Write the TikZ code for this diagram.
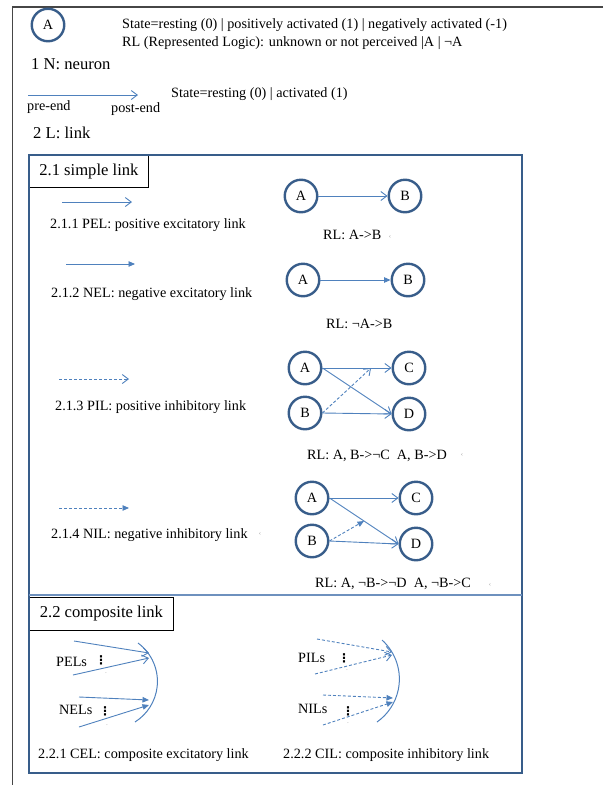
\documentclass[tikz,border=0pt]{standalone}
\usepackage{fontspec}
\setmainfont{Liberation Serif}
\newfontfamily\symfnt{DejaVu Sans}
\usetikzlibrary{arrows.meta,calc}
\definecolor{nblue}{RGB}{56,93,138}
\definecolor{lblue}{RGB}{79,129,189}
\definecolor{divblue}{RGB}{110,145,190}
\definecolor{framegray}{RGB}{70,70,70}
\begin{document}
\begin{tikzpicture}[x=1pt,y=-1pt,
 neuron/.style={circle, draw=nblue, line width=2.4pt, minimum size=32.5pt, inner sep=0pt, font=\fontsize{14.2}{16}\selectfont},
 txt/.style={anchor=base west, inner sep=0pt, font=\fontsize{14.2}{17}\selectfont},
 hdr/.style={anchor=base west, inner sep=0pt, font=\fontsize{16.6}{19}\selectfont},
 lnk/.style={draw=lblue, line width=0.9pt},
 pelink/.style={lnk, -{Straight Barb[length=6pt,width=9pt,line width=0.9pt]}},
 nelink/.style={lnk, -{Triangle[length=6.5pt,width=5.5pt]}},
 pilink/.style={pelink, dash pattern=on 3pt off 2pt},
 nilink/.style={nelink, dash pattern=on 3pt off 2pt},
 titlebox/.style={draw=black, line width=0.8pt, fill=white, inner sep=0pt, font=\fontsize{16.6}{19}\selectfont},
 boxline/.style={draw=nblue, line width=2.4pt},
 tinymark/.style={inner sep=0pt, text=gray!70, font=\fontsize{7}{7}\selectfont},
 vdts/.style={inner sep=0pt, font=\symfnt\bfseries\fontsize{12}{12}\selectfont}
]
\useasboundingbox (0,0) rectangle (603,785);
% outer frame
\draw[framegray, line width=1.4pt] (603,7) -- (12.5,7) -- (12.5,785);

% 1 N: neuron
\node[neuron] (A0) at (48,25) {A};
\node[txt] (st1) at (122,28) {State=resting (0) | positively activated (1) | negatively activated (-1)};
\node[txt] (st2) at (122,46) {RL (Represented Logic): unknown or not perceived |A | ¬A};
\node[hdr] (h1) at (31,69) {1 N: neuron};

% 2 L: link
\coordinate (preS) at (28,95);
\coordinate (preE) at (138,95);
\draw[pelink] (preS) -- (preE);
\node[txt] (pre) at (27,110) {pre-end};
\node[txt] (post) at (111,112) {post-end};
\node[txt] (st3) at (171,97) {State=resting (0) | activated (1)};
\node[hdr] (h2) at (33,138) {2 L: link};

% title boxes
\node[titlebox, minimum width=119pt, minimum height=32pt, anchor=north west] (t21) at (29,155) {2.1 simple link};
\node[titlebox, minimum width=144pt, minimum height=33pt, anchor=north west] (t22) at (29,597) {2.2 composite link};
% blue box
\draw[boxline] (29,155) rectangle (522,773);
\draw[divblue, line width=1.6pt] (29,595) -- (522,595);

% 2.1.1 PEL
\coordinate (pelS) at (62,202);
\coordinate (pelE) at (132,202);
\draw[pelink] (pelS) -- (pelE);
\node[txt] (l211) at (50,228) {2.1.1 PEL: positive excitatory link};
\node[neuron] (A1) at (301,196) {A};
\node[neuron] (B1) at (405,196) {B};
\draw[pelink] (A1) -- (B1);
\node[txt] (rl1) at (323,239) {RL: A->B};
\node[tinymark] (m1) at (390,237) {‹};

% 2.1.2 NEL
\coordinate (nelS) at (66,264);
\coordinate (nelE) at (135,264);
\draw[nelink] (nelS) -- (nelE);
\node[txt] (l212) at (51,297) {2.1.2 NEL: negative excitatory link};
\node[neuron] (A2) at (303,280) {A};
\node[neuron] (B2) at (408,280) {B};
\draw[nelink] (A2) -- (B2);
\node[txt] (rl2) at (326,328) {RL: ¬A->B};

% 2.1.3 PIL
\coordinate (pilS) at (59,379);
\coordinate (pilE) at (129,379);
\draw[pilink] (pilS) -- (pilE);
\node[txt] (l213) at (55,410) {2.1.3 PIL: positive inhibitory link};
\node[neuron] (A3) at (305,368) {A};
\node[neuron] (C3) at (409,368) {C};
\node[neuron] (B3) at (305,413) {B};
\node[neuron] (D3) at (409,414) {D};
\draw[pelink] (A3.east) -- (C3.west);
\draw[pelink] (A3.east) -- (D3.west);
\draw[pelink] (B3.east) -- (D3.west);
\coordinate (pilT) at ($(A3)!0.635!(C3)$);
\draw[pilink] (B3.east) -- (pilT);
\node[txt] (rl3) at (307,459) {RL: A, B->¬C\ \ A, B->D};
\node[tinymark] (m3) at (462,455) {‹};

% 2.1.4 NIL
\coordinate (nilS) at (59,508);
\coordinate (nilE) at (129,508);
\draw[nilink] (nilS) -- (nilE);
\node[txt] (l214) at (51,538) {2.1.4 NIL: negative inhibitory link};
\node[tinymark] (m4a) at (260,534) {‹};
\node[neuron] (A4) at (312,498) {A};
\node[neuron] (C4) at (416,498) {C};
\node[neuron] (B4) at (312,541) {B};
\node[neuron] (D4) at (416,544) {D};
\draw[pelink] (A4.east) -- (C4.west);
\draw[pelink] (A4.east) -- (D4.west);
\draw[pelink] (B4.east) -- (D4.west);
\coordinate (nilT) at ($(A4.east)!0.5!(D4.west)$);
\draw[nilink] (B4.east) -- (nilT);
\node[txt] (rl4) at (315,587) {RL: A, ¬B->¬D\ \ A, ¬B->C};
\node[tinymark] (m4) at (490,585) {‹};

% 2.2.1 CEL
\coordinate (celTop) at (138,643);
\draw[lnk, line width=1pt] (celTop) arc[start angle=-53.6, end angle=57.9, radius=47.8];
\coordinate (ce1S) at (74,641);  \coordinate (ce1E) at (149,653);
\coordinate (ce2S) at (73,675);  \coordinate (ce2E) at (149,658);
\coordinate (ce3S) at (79,697);  \coordinate (ce3E) at (149,700);
\coordinate (ce4S) at (79,727);  \coordinate (ce4E) at (149,705);
\draw[pelink] (ce1S) -- (ce1E);
\draw[pelink] (ce2S) -- (ce2E);
\draw[nelink] (ce3S) -- (ce3E);
\draw[nelink] (ce4S) -- (ce4E);
\node[txt] (pels) at (56,666) {PELs};
\node[vdts] (d1) at (101,660) {⋮};
\node[tinymark] (m5) at (106,674) {·};
\node[txt] (nels) at (59,714) {NELs};
\node[vdts] (d2) at (105,711) {⋮};
\node[tinymark] (m6) at (107,726) {·};
\node[txt] (cel) at (38,758) {2.2.1 CEL: composite excitatory link};

% 2.2.2 CIL
\coordinate (cilTop) at (382,640);
\draw[lnk, line width=1pt] (cilTop) arc[start angle=-48, end angle=55, radius=52.5];
\coordinate (ci1S) at (317,639);  \coordinate (ci1E) at (392,652);
\coordinate (ci2S) at (315,674);  \coordinate (ci2E) at (392,655);
\coordinate (ci3S) at (323,695);  \coordinate (ci3E) at (393,698);
\coordinate (ci4S) at (323,725);  \coordinate (ci4E) at (393,702);
\draw[pilink] (ci1S) -- (ci1E);
\draw[pilink] (ci2S) -- (ci2E);
\draw[nilink] (ci3S) -- (ci3E);
\draw[nilink] (ci4S) -- (ci4E);
\node[txt] (pils) at (298,662) {PILs};
\node[vdts] (d3) at (344,658) {⋮};
\node[tinymark] (m7) at (347,671) {·};
\node[txt] (nils) at (298,713) {NILs};
\node[vdts] (d4) at (348,711) {⋮};
\node[tinymark] (m8) at (348,724) {·};
\node[txt] (cil) at (283,758) {2.2.2 CIL: composite inhibitory link};
\end{tikzpicture}
\end{document}
